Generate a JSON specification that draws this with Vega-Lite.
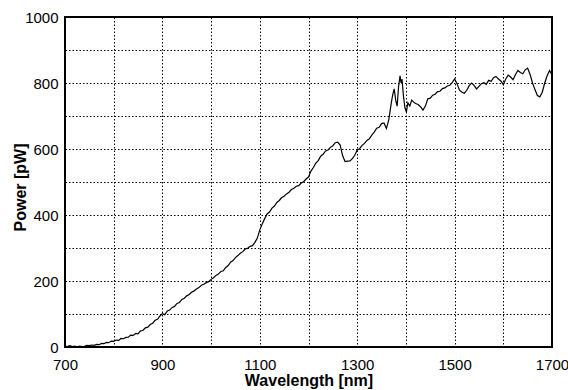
{
  "$schema": "https://vega.github.io/schema/vega-lite/v6.json",
  "width": 487,
  "height": 330,
  "autosize": "none",
  "padding": {"left": 65, "top": 17, "right": 16, "bottom": 43},
  "background": "white",
  "config": {
    "font": "Liberation Sans",
    "view": {"stroke": "#000", "strokeWidth": 2},
    "axis": {
      "domain": false,
      "ticks": false,
      "grid": true,
      "gridColor": "#000",
      "gridDash": [1.5, 2],
      "gridWidth": 1,
      "gridOpacity": 1,
      "labelColor": "#000",
      "labelFontSize": 15,
      "labelFlush": false,
      "titleColor": "#000",
      "titleFontSize": 16,
      "titleFontWeight": "bold"
    }
  },
  "data": {
    "values": [
      {"wavelength": 700, "power": 3}, {"wavelength": 705, "power": 1}, {"wavelength": 710, "power": 4},
      {"wavelength": 715, "power": 1}, {"wavelength": 720, "power": 3}, {"wavelength": 725, "power": 0},
      {"wavelength": 730, "power": 3}, {"wavelength": 735, "power": 1}, {"wavelength": 740, "power": 2},
      {"wavelength": 745, "power": 5}, {"wavelength": 750, "power": 4}, {"wavelength": 755, "power": 6},
      {"wavelength": 760, "power": 5}, {"wavelength": 765, "power": 8}, {"wavelength": 770, "power": 7},
      {"wavelength": 775, "power": 11}, {"wavelength": 780, "power": 10}, {"wavelength": 785, "power": 14},
      {"wavelength": 790, "power": 13}, {"wavelength": 795, "power": 18}, {"wavelength": 800, "power": 17},
      {"wavelength": 805, "power": 21}, {"wavelength": 810, "power": 20}, {"wavelength": 815, "power": 26},
      {"wavelength": 820, "power": 25}, {"wavelength": 825, "power": 29}, {"wavelength": 830, "power": 30},
      {"wavelength": 835, "power": 36}, {"wavelength": 840, "power": 35}, {"wavelength": 845, "power": 41},
      {"wavelength": 850, "power": 40}, {"wavelength": 855, "power": 49}, {"wavelength": 860, "power": 50},
      {"wavelength": 865, "power": 58}, {"wavelength": 870, "power": 60}, {"wavelength": 875, "power": 68},
      {"wavelength": 880, "power": 72}, {"wavelength": 885, "power": 81}, {"wavelength": 890, "power": 84},
      {"wavelength": 895, "power": 94}, {"wavelength": 900, "power": 101}, {"wavelength": 905, "power": 98},
      {"wavelength": 910, "power": 109}, {"wavelength": 915, "power": 112}, {"wavelength": 920, "power": 120},
      {"wavelength": 925, "power": 123}, {"wavelength": 930, "power": 132}, {"wavelength": 935, "power": 135},
      {"wavelength": 940, "power": 144}, {"wavelength": 945, "power": 148}, {"wavelength": 950, "power": 155},
      {"wavelength": 955, "power": 159}, {"wavelength": 960, "power": 166}, {"wavelength": 965, "power": 170},
      {"wavelength": 970, "power": 176}, {"wavelength": 975, "power": 180}, {"wavelength": 980, "power": 187},
      {"wavelength": 985, "power": 190}, {"wavelength": 990, "power": 195}, {"wavelength": 995, "power": 198},
      {"wavelength": 1000, "power": 205}, {"wavelength": 1005, "power": 210}, {"wavelength": 1010, "power": 217},
      {"wavelength": 1015, "power": 221}, {"wavelength": 1020, "power": 229}, {"wavelength": 1025, "power": 231},
      {"wavelength": 1030, "power": 241}, {"wavelength": 1035, "power": 247}, {"wavelength": 1040, "power": 257},
      {"wavelength": 1045, "power": 262}, {"wavelength": 1050, "power": 271}, {"wavelength": 1055, "power": 277},
      {"wavelength": 1060, "power": 284}, {"wavelength": 1065, "power": 289}, {"wavelength": 1070, "power": 297},
      {"wavelength": 1075, "power": 299}, {"wavelength": 1080, "power": 305}, {"wavelength": 1085, "power": 307},
      {"wavelength": 1090, "power": 317}, {"wavelength": 1095, "power": 330}, {"wavelength": 1100, "power": 355},
      {"wavelength": 1105, "power": 373}, {"wavelength": 1110, "power": 389}, {"wavelength": 1115, "power": 403},
      {"wavelength": 1120, "power": 409}, {"wavelength": 1125, "power": 421}, {"wavelength": 1130, "power": 427},
      {"wavelength": 1135, "power": 438}, {"wavelength": 1140, "power": 444}, {"wavelength": 1145, "power": 453},
      {"wavelength": 1150, "power": 457}, {"wavelength": 1155, "power": 464}, {"wavelength": 1160, "power": 469},
      {"wavelength": 1165, "power": 477}, {"wavelength": 1170, "power": 481}, {"wavelength": 1175, "power": 487},
      {"wavelength": 1180, "power": 489}, {"wavelength": 1185, "power": 497}, {"wavelength": 1190, "power": 501},
      {"wavelength": 1195, "power": 509}, {"wavelength": 1200, "power": 515}, {"wavelength": 1205, "power": 533},
      {"wavelength": 1210, "power": 544}, {"wavelength": 1215, "power": 557}, {"wavelength": 1220, "power": 565},
      {"wavelength": 1225, "power": 578}, {"wavelength": 1230, "power": 584}, {"wavelength": 1235, "power": 594},
      {"wavelength": 1240, "power": 597}, {"wavelength": 1245, "power": 605}, {"wavelength": 1250, "power": 610},
      {"wavelength": 1255, "power": 619}, {"wavelength": 1260, "power": 621}, {"wavelength": 1265, "power": 612},
      {"wavelength": 1270, "power": 580}, {"wavelength": 1275, "power": 562}, {"wavelength": 1280, "power": 563},
      {"wavelength": 1285, "power": 564}, {"wavelength": 1290, "power": 571}, {"wavelength": 1295, "power": 581},
      {"wavelength": 1300, "power": 597}, {"wavelength": 1305, "power": 601}, {"wavelength": 1310, "power": 611},
      {"wavelength": 1315, "power": 617}, {"wavelength": 1320, "power": 626}, {"wavelength": 1325, "power": 631},
      {"wavelength": 1330, "power": 642}, {"wavelength": 1335, "power": 651}, {"wavelength": 1340, "power": 663},
      {"wavelength": 1345, "power": 666}, {"wavelength": 1350, "power": 677}, {"wavelength": 1355, "power": 679},
      {"wavelength": 1360, "power": 662}, {"wavelength": 1365, "power": 690}, {"wavelength": 1370, "power": 740},
      {"wavelength": 1373, "power": 765}, {"wavelength": 1376, "power": 782}, {"wavelength": 1379, "power": 748},
      {"wavelength": 1382, "power": 730}, {"wavelength": 1385, "power": 790}, {"wavelength": 1388, "power": 822},
      {"wavelength": 1390, "power": 800}, {"wavelength": 1392, "power": 812}, {"wavelength": 1395, "power": 760},
      {"wavelength": 1398, "power": 725}, {"wavelength": 1401, "power": 712}, {"wavelength": 1404, "power": 740},
      {"wavelength": 1408, "power": 730}, {"wavelength": 1412, "power": 748}, {"wavelength": 1416, "power": 742},
      {"wavelength": 1420, "power": 738}, {"wavelength": 1425, "power": 735}, {"wavelength": 1430, "power": 728},
      {"wavelength": 1435, "power": 718}, {"wavelength": 1440, "power": 730}, {"wavelength": 1445, "power": 752},
      {"wavelength": 1450, "power": 754}, {"wavelength": 1455, "power": 763}, {"wavelength": 1460, "power": 766},
      {"wavelength": 1465, "power": 774}, {"wavelength": 1470, "power": 775}, {"wavelength": 1475, "power": 783},
      {"wavelength": 1480, "power": 785}, {"wavelength": 1485, "power": 791}, {"wavelength": 1490, "power": 793},
      {"wavelength": 1495, "power": 801}, {"wavelength": 1500, "power": 812}, {"wavelength": 1505, "power": 798},
      {"wavelength": 1510, "power": 778}, {"wavelength": 1515, "power": 772}, {"wavelength": 1520, "power": 769},
      {"wavelength": 1525, "power": 778}, {"wavelength": 1530, "power": 792}, {"wavelength": 1535, "power": 800},
      {"wavelength": 1540, "power": 793}, {"wavelength": 1545, "power": 782}, {"wavelength": 1550, "power": 790},
      {"wavelength": 1555, "power": 798}, {"wavelength": 1560, "power": 801}, {"wavelength": 1565, "power": 796},
      {"wavelength": 1570, "power": 808}, {"wavelength": 1575, "power": 805}, {"wavelength": 1580, "power": 816},
      {"wavelength": 1585, "power": 820}, {"wavelength": 1590, "power": 812}, {"wavelength": 1595, "power": 806},
      {"wavelength": 1600, "power": 795}, {"wavelength": 1605, "power": 812}, {"wavelength": 1610, "power": 824},
      {"wavelength": 1615, "power": 818}, {"wavelength": 1620, "power": 810}, {"wavelength": 1625, "power": 826},
      {"wavelength": 1630, "power": 838}, {"wavelength": 1635, "power": 832}, {"wavelength": 1640, "power": 828},
      {"wavelength": 1645, "power": 840}, {"wavelength": 1650, "power": 845}, {"wavelength": 1655, "power": 826},
      {"wavelength": 1660, "power": 800}, {"wavelength": 1665, "power": 780}, {"wavelength": 1670, "power": 762},
      {"wavelength": 1675, "power": 758}, {"wavelength": 1680, "power": 772}, {"wavelength": 1685, "power": 800},
      {"wavelength": 1690, "power": 822}, {"wavelength": 1695, "power": 838}, {"wavelength": 1700, "power": 825}
    ]
  },
  "mark": {"type": "line", "color": "#000", "strokeWidth": 1.2},
  "encoding": {
    "x": {
      "field": "wavelength",
      "type": "quantitative",
      "scale": {"domain": [700, 1700], "nice": false, "zero": false},
      "axis": {
        "values": [700, 800, 900, 1000, 1100, 1200, 1300, 1400, 1500, 1600, 1700],
        "format": "d",
        "labelExpr": "datum.value % 200 == 0 ? '' : datum.label",
        "labelPadding": 10,
        "labelBaseline": "top",
        "title": "Wavelength [nm]",
        "titleY": 38,
        "titleBaseline": "alphabetic"
      }
    },
    "y": {
      "field": "power",
      "type": "quantitative",
      "scale": {"domain": [0, 1000], "nice": false},
      "axis": {
        "values": [0, 100, 200, 300, 400, 500, 600, 700, 800, 900, 1000],
        "format": "d",
        "labelExpr": "datum.value % 200 == 100 ? '' : datum.label",
        "labelPadding": 7,
        "title": "Power [pW]",
        "titleAngle": -90,
        "titleX": -45,
        "titleY": 170,
        "titleAlign": "center",
        "titleBaseline": "middle"
      }
    }
  }
}
